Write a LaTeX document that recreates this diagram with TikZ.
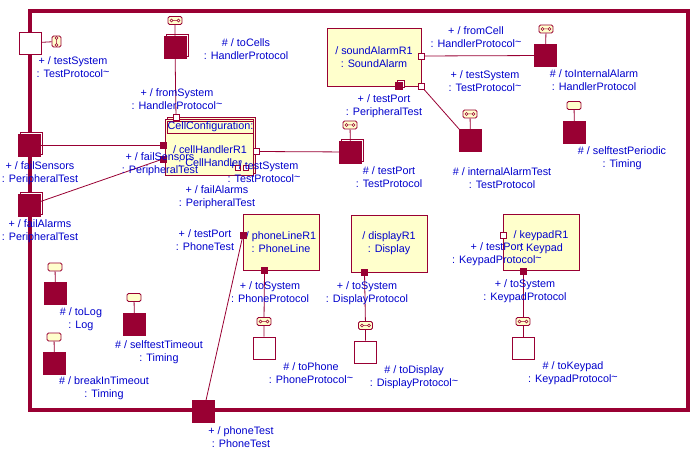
\documentclass[tikz,border=0pt]{standalone}
\usepackage{fontspec}
\setmainfont{Liberation Sans}
\usetikzlibrary{shadows, positioning}
\definecolor{dred}{RGB}{153,0,51}
\definecolor{cream}{RGB}{255,255,204}
\definecolor{lblue}{RGB}{0,0,205}
\newcommand{\tl}{\raisebox{0.35ex}{\textasciitilde}}

\tikzset{
  frame/.style={draw=dred, line width=4pt},
  capsule/.style={draw=dred, fill=cream, line width=0.8pt, minimum width=76pt, minimum height=56pt, inner sep=0pt, text=lblue, align=center, font=\fontsize{10.8}{13}\selectfont},
  endport/.style={draw=dred, fill=dred, minimum size=22pt, inner sep=0pt},
  stackport/.style={endport, copy shadow={shadow xshift=2pt, shadow yshift=2pt, fill=white, draw=dred, line width=0.6pt}},
  relayport/.style={draw=dred, fill=white, line width=0.8pt, minimum size=22pt, inner sep=0pt},
  pin/.style={draw=dred, fill=dred, minimum size=6pt, inner sep=0pt},
  openpin/.style={draw=dred, fill=white, line width=0.6pt, minimum size=6pt, inner sep=0pt},
  timer/.style={draw=dred, fill=cream, line width=0.8pt, rounded corners=1.5pt, minimum width=14pt, minimum height=8pt, inner sep=0pt},
  proto/.style={timer, path picture={\draw[dred, line width=0.5pt] ([xshift=-5pt,yshift=-1.5pt]path picture bounding box.center) rectangle ++(3pt,3pt) ++(0pt,-1.5pt) -- ++(4pt,0pt) ++(0pt,-1.5pt) rectangle ++(3pt,3pt);}},
  vproto/.style={timer, minimum width=9pt, minimum height=11pt, path picture={\draw[dred, line width=0.5pt] ([xshift=-1.5pt,yshift=-5pt]path picture bounding box.center) rectangle ++(3pt,3pt) ++(-1.5pt,0pt) -- ++(0pt,4pt) ++(-1.5pt,0pt) rectangle ++(3pt,3pt);}},
  wire/.style={draw=dred, line width=0.8pt},
  lbl/.style={text=lblue, align=center, inner sep=0pt, font=\fontsize{10.8}{13}\selectfont}
}

\begin{document}
\begin{tikzpicture}[x=1pt, y=-1pt]
  \useasboundingbox[fill=white] (0,0) rectangle (696,454);
  \draw[frame] (30,11) rectangle (688,410);

  % capsule parts
  \node[capsule, minimum width=94pt, minimum height=58pt] (sound) at (374,57) {/ soundAlarmR1\\: SoundAlarm};
  \node[capsule, minimum width=88pt, copy shadow={shadow xshift=2pt, shadow yshift=2pt, fill=cream, draw=dred}] (handler) at (209.5,147.5) {};
  \node[draw=dred, line width=0.6pt, minimum width=85pt, minimum height=12pt, inner sep=0pt, lbl] (title) at (210.5,127) {CellConfiguration:};
  \node[lbl] (handlertxt) at (210,156) {/ cellHandlerR1\\: CellHandler};
  \node[capsule] (phone) at (281,242) {/ phoneLineR1\\: PhoneLine};
  \node[capsule, minimum height=57pt] (display) at (389,243.5) {/ displayR1\\: Display};
  \node[capsule] (keypad) at (541,242.5) {/ keypadR1\\: Keypad};

  % border ports
  \node[relayport] (bsys) at (30,43) {};
  \node[vproto] (bsysicon) at (56.5,41.5) {};
  \node[stackport] (bsens) at (29,145) {};
  \node[stackport] (balarm) at (29,205.5) {};
  \node[endport] (bphone) at (203.5,411.5) {};

  % ports on the parts
  \node[openpin] (hsys) at (176,117.5) {};
  \node[pin] (hsens) at (163.5,145) {};
  \node[pin] (halarm) at (163,159) {};
  \node[openpin] (hport) at (256,151.5) {};
  \node[openpin, minimum size=5pt] (htest) at (238,167.5) {};
  \node[openpin, minimum size=5pt] (htestb) at (245.5,167.5) {};
  \node[openpin] (sfrom) at (421,56) {};
  \node[openpin] (stest) at (421,86) {};
  \node[pin, minimum size=7pt, copy shadow={shadow xshift=1.5pt, shadow yshift=1.5pt, fill=white, draw=dred, line width=0.5pt}] (sport) at (399,85.5) {};
  \node[pin] (ptest) at (243,235) {};
  \node[pin] (psys) at (264.5,270.5) {};
  \node[pin] (dsys) at (364.5,272.5) {};
  \node[openpin] (ktest) at (503,235) {};
  \node[pin] (ksys) at (523,271) {};

  % inner end ports
  \node[stackport] (cells) at (175,47.5) {};
  \node[proto] (cellsicon) at (175,20.5) {};
  \node[stackport] (tport) at (350.5,152) {};
  \node[proto] (tporticon) at (350,125) {};
  \node[endport] (intern) at (545.5,55.5) {};
  \node[proto] (internicon) at (546,29) {};
  \node[endport] (alarmtest) at (470.5,140.5) {};
  \node[proto] (alarmtesticon) at (470,114) {};
  \node[endport] (periodic) at (574.5,132) {};
  \node[timer] (periodicicon) at (574,105.5) {};
  \node[endport] (log) at (55.5,293) {};
  \node[timer] (logicon) at (55,267) {};
  \node[endport] (timeout) at (134.5,324.5) {};
  \node[timer] (timeouticon) at (134,297.5) {};
  \node[endport] (breakin) at (54.5,363) {};
  \node[timer] (breakinicon) at (54,337) {};

  % relay ports below the parts
  \foreach \part/\x/\y in {p/264/348, d/365.5/352, k/523/348}{
    \node[relayport] (\part end) at (\x,\y) {};
    \node[proto] (\part icon) at (\x,\y-26.5) {};
  }

  % connectors
  \draw[wire] (bsys) -- (bsysicon);
  \draw[wire] (cellsicon) -- (cells) -- (hsys);
  \draw[wire] (bsens) -- (hsens);
  \draw[wire] (balarm) -- (halarm);
  \draw[wire] (hport) -- (tport);
  \draw[wire] (tporticon) -- (tport);
  \draw[wire] (sfrom) -- (intern);
  \draw[wire] (internicon) -- (intern);
  \draw[wire] (stest) -- (alarmtest.north west);
  \draw[wire] (alarmtesticon) -- (alarmtest);
  \draw[wire] (periodicicon) -- (periodic);
  \draw[wire] (logicon) -- (log);
  \draw[wire] (timeouticon) -- (timeout);
  \draw[wire] (breakinicon) -- (breakin);
  \draw[wire] (bphone) -- (ptest);
  \draw[wire] (psys) -- (picon) -- (pend);
  \draw[wire] (dsys) -- (dicon) -- (dend);
  \draw[wire] (ksys) -- (kicon) -- (kend);

  % labels
  \node[lbl] (lbsys) at (73,67.5) {+ / testSystem\\: TestProtocol\tl};
  \node[lbl] (lbsens) at (40,173.5) {+ / failSensors\\: PeripheralTest};
  \node[lbl] (lbalarm) at (40,231.5) {+ / failAlarms\\: PeripheralTest};
  \node[lbl] (lbphone) at (241,437) {+ / phoneTest\\: PhoneTest};
  \node[lbl] (lcells) at (246,49.5) {\# / toCells\\: HandlerProtocol};
  \node[lbl] (lhsys) at (177,99.5) {+ / fromSystem\\: HandlerProtocol\tl};
  \node[lbl] (lhsens) at (160,164.5) {+ / failSensors\\: PeripheralTest};
  \node[lbl] (lhalarm) at (217,197.5) {+ / failAlarms\\: PeripheralTest};
  \node[lbl] (lhtest) at (264,172.5) {+ / testSystem\\: TestProtocol\tl};
  \node[lbl] (lsport) at (384,106.5) {+ / testPort\\: PeripheralTest};
  \node[lbl] (lsfrom) at (476,37.5) {+ / fromCell\\: HandlerProtocol\tl};
  \node[lbl] (lstest) at (485,81.5) {+ / testSystem\\: TestProtocol\tl};
  \node[lbl] (lintern) at (594,80.5) {\# / toInternalAlarm\\: HandlerProtocol};
  \node[lbl] (lperiodic) at (622,158) {\# / selftestPeriodic\\: Timing};
  \node[lbl] (lalarmtest) at (502,178.5) {\# / internalAlarmTest\\: TestProtocol};
  \node[lbl] (ltport) at (389,177.5) {\# / testPort\\: TestProtocol};
  \node[lbl] (lptest) at (205,240.5) {+ / testPort\\: PhoneTest};
  \node[lbl] (lpsys) at (270,292) {+ / toSystem\\: PhoneProtocol};
  \node[lbl] (lpend) at (311,373.5) {\# / toPhone\\: PhoneProtocol\tl};
  \node[lbl] (ldsys) at (367,293.5) {+ / toSystem\\: DisplayProtocol};
  \node[lbl] (ldend) at (414,377.5) {\# / toDisplay\\: DisplayProtocol\tl};
  \node[lbl] (lktest) at (497,254.5) {+ / testPort\\: KeypadProtocol\tl};
  \node[lbl] (lksys) at (525,291.5) {+ / toSystem\\: KeypadProtocol};
  \node[lbl] (lkend) at (573,373.5) {\# / toKeypad\\: KeypadProtocol\tl};
  \node[lbl] (llog) at (81,319) {\# / toLog\\: Log};
  \node[lbl] (ltimeout) at (159,352.5) {\# / selftestTimeout\\: Timing};
  \node[lbl] (lbreakin) at (104,388.5) {\# / breakInTimeout\\: Timing};
\end{tikzpicture}
\end{document}
